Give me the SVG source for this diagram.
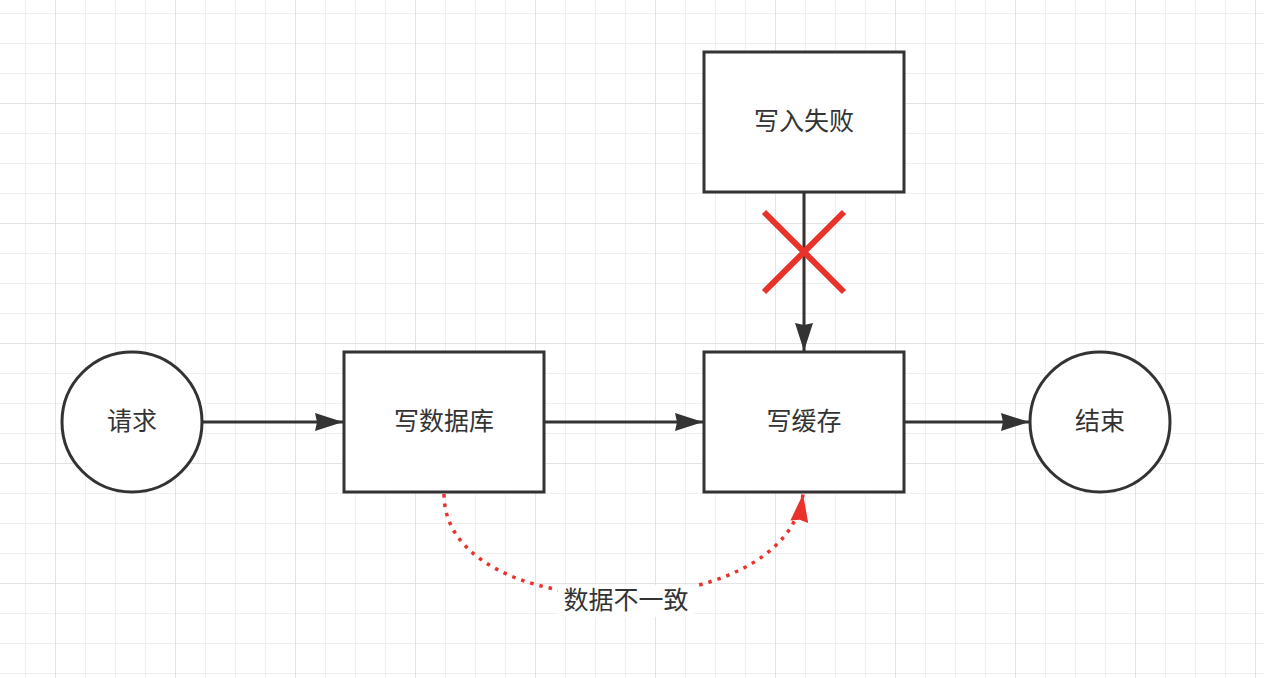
<svg xmlns="http://www.w3.org/2000/svg" width="1264" height="678" viewBox="0 0 1264 678">
<defs>
<pattern id="minor" x="-5" y="-17" width="30" height="30" patternUnits="userSpaceOnUse">
<path d="M0 0H30M0 0V30" fill="none" stroke="#efefef" stroke-width="2"/>
</pattern>
<pattern id="major" x="55" y="103" width="120" height="120" patternUnits="userSpaceOnUse">
<path d="M0 0H120M0 0V120" fill="none" stroke="#e3e3e3" stroke-width="2"/>
</pattern>
<marker id="arr" markerWidth="28" markerHeight="20" refX="28" refY="10" orient="auto" markerUnits="userSpaceOnUse">
<path d="M0 1 L28 10 L0 19 L2 10 Z" fill="#333333"/>
</marker>
<marker id="arrRed" markerWidth="28" markerHeight="20" refX="28" refY="10" orient="auto" markerUnits="userSpaceOnUse">
<path d="M0 1 L28 10 L0 19 L2 10 Z" fill="#e8322a"/>
</marker>
</defs>
<style>
.shape{fill:#ffffff;stroke:#333333;stroke-width:3}
.lbl{font-family:"Noto Sans CJK SC","Noto Sans",sans-serif;font-size:25px;fill:#333333;text-anchor:middle;dominant-baseline:central}
.edge{fill:none;stroke:#333333;stroke-width:3}
</style>
<rect width="1264" height="678" fill="#ffffff"/>
<rect width="1264" height="678" fill="url(#minor)"/>
<rect width="1264" height="678" fill="url(#major)"/>
<g id="connectors">
<path class="edge" d="M203 422 H343" marker-end="url(#arr)"/>
<path class="edge" d="M545 422 H703" marker-end="url(#arr)"/>
<path class="edge" d="M905 422 H1029" marker-end="url(#arr)"/>
<path class="edge" d="M804 192 V351" marker-end="url(#arr)"/>
<path d="M444 494 C444 628 785 630 803 494" fill="none" stroke="#e8322a" stroke-width="3.5" stroke-dasharray="3.5 6" marker-end="url(#arrRed)"/>
<g id="cross" stroke="#e8322a" stroke-width="6">
<path d="M764 212 L844 292M844 212 L764 292"/>
</g>
<rect x="558" y="585" width="136" height="32" fill="#ffffff"/>
<text class="lbl" x="626" y="598">数据不一致</text>
</g>
<g id="req"><circle class="shape" cx="132" cy="422" r="70"/><text class="lbl" x="132" y="419">请求</text></g>
<g id="db"><rect class="shape" x="344" y="352" width="200" height="140"/><text class="lbl" x="444" y="419">写数据库</text></g>
<g id="cache"><rect class="shape" x="704" y="352" width="200" height="140"/><text class="lbl" x="804" y="419">写缓存</text></g>
<g id="fail"><rect class="shape" x="704" y="52" width="200" height="140"/><text class="lbl" x="804" y="119">写入失败</text></g>
<g id="end"><circle class="shape" cx="1100" cy="422" r="70"/><text class="lbl" x="1100" y="419">结束</text></g>
</svg>
